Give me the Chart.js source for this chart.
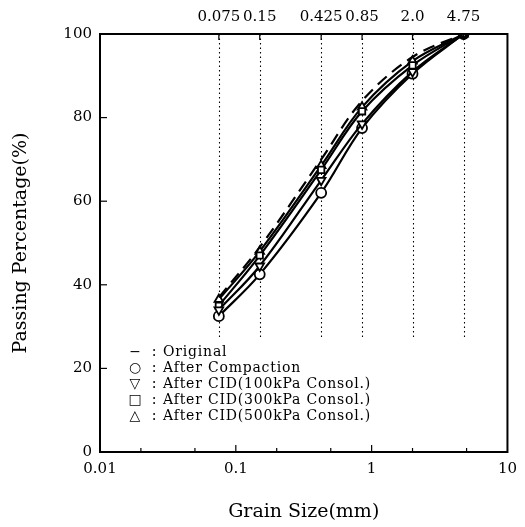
<!DOCTYPE html>
<html>
<head>
<meta charset="utf-8">
<script src="https://cdn.jsdelivr.net/npm/chart.js@4.4.1/dist/chart.umd.min.js"></script>
<style>
  html, body { margin: 0; padding: 0; background: #fff; }
  #wrap { width: 525px; height: 527px; }
</style>
</head>
<body>
<div id="wrap"><canvas id="chartGrain"></canvas></div>
<script>
// data -------------------------------------------------------------
const sieveSizes = [0.075, 0.15, 0.425, 0.85, 2.0, 4.75];
const sieveLabels = ['0.075', '0.15', '0.425', '0.85', '2.0', '4.75'];
const original = [37, 49, 70, 84, 94.5, 100];
const compaction = [32.5, 42.5, 62, 77.5, 90.5, 100];
const cid100 = [34, 44.5, 65, 78.5, 91, 100];
const cid300 = [35, 47, 67.5, 81.5, 92.5, 100];
const cid500 = [36.5, 48, 68.5, 82.5, 93.5, 100];
const seriesNames = ['Original', 'After Compaction', 'After CID(100kPa Consol.)', 'After CID(300kPa Consol.)', 'After CID(500kPa Consol.)'];
const legendSymbols = ['\u2212', '\u25CB', '\u25BD', '\u25A1', '\u25B3'];
const bottomTicks = [0.01, 0.1, 1, 10];
const yTicks = [0, 20, 40, 60, 80, 100];

const FONT = "'DejaVu Serif', 'Liberation Serif', serif";

function toPoints(values) {
    return sieveSizes.map((s, i) => ({ x: s, y: values[i] }));
}

// sieve dotted lines, box, inside ticks, legend ---------------------
const decorPlugin = {
    id: 'decor',
    beforeDatasetsDraw(chart) {
        const ctx = chart.ctx;
        const xs = chart.scales.x;
        const ys = chart.scales.y;
        const a = chart.chartArea;
        ctx.save();
        ctx.strokeStyle = '#000';
        ctx.lineWidth = 1.1;
        ctx.setLineDash([1.5, 3]);
        sieveSizes.forEach(s => {
            const px = Math.round(xs.getPixelForValue(s)) + 0.5;
            ctx.beginPath();
            ctx.moveTo(px, a.top);
            ctx.lineTo(px, ys.getPixelForValue(27));
            ctx.stroke();
        });
        ctx.restore();
    },
    afterDraw(chart) {
        const ctx = chart.ctx;
        const xs = chart.scales.x;
        const ys = chart.scales.y;
        const a = chart.chartArea;
        ctx.save();
        ctx.strokeStyle = '#000';
        ctx.lineWidth = 2;
        ctx.strokeRect(a.left, a.top, a.right - a.left, a.bottom - a.top);
        ctx.lineWidth = 1.2;
        // y ticks inside
        yTicks.forEach(v => {
            const py = ys.getPixelForValue(v);
            ctx.beginPath();
            ctx.moveTo(a.left, py);
            ctx.lineTo(a.left + 7, py);
            ctx.stroke();
        });
        // x ticks inside (bottom)
        [0.02, 0.05, 0.1, 0.2, 0.5, 1, 2, 5].forEach(v => {
            const px = xs.getPixelForValue(v);
            const len = bottomTicks.includes(v) ? 7 : 4;
            ctx.beginPath();
            ctx.moveTo(px, a.bottom);
            ctx.lineTo(px, a.bottom - len);
            ctx.stroke();
        });
        // sieve ticks at top
        sieveSizes.forEach(s => {
            const px = xs.getPixelForValue(s);
            ctx.beginPath();
            ctx.moveTo(px, a.top);
            ctx.lineTo(px, a.top + 6);
            ctx.stroke();
        });
        // legend
        ctx.fillStyle = '#000';
        ctx.textBaseline = 'middle';
        ctx.font = '14px ' + FONT;
        seriesNames.forEach((name, i) => {
            const y = a.bottom - 100 + i * 16;
            ctx.letterSpacing = '0px';
            ctx.textAlign = 'center';
            ctx.fillText(legendSymbols[i], a.left + 35, y);
            ctx.fillText(':', a.left + 54, y);
            ctx.textAlign = 'left';
            ctx.letterSpacing = '0.8px';
            ctx.fillText(name, a.left + 63, y);
        });
        ctx.restore();
    }
};

function chartGrain() {
    const common = {
        borderColor: '#000',
        pointBorderColor: '#000',
        pointBackgroundColor: '#fff',
        pointBorderWidth: 1.8,
        pointRadius: 5,
        borderWidth: 2.2,
        tension: 0.35,
        fill: false
    };
    const dataGrain = {
        datasets: [
            Object.assign({}, common, { label: seriesNames[0], data: toPoints(original), borderDash: [12, 7], pointRadius: 0 }),
            Object.assign({}, common, { label: seriesNames[2], data: toPoints(cid100), pointStyle: 'triangle', rotation: 180 }),
            Object.assign({}, common, { label: seriesNames[3], data: toPoints(cid300), pointStyle: 'rect', pointRadius: 4.5 }),
            Object.assign({}, common, { label: seriesNames[4], data: toPoints(cid500), pointStyle: 'triangle' }),
            Object.assign({}, common, { label: seriesNames[1], data: toPoints(compaction), pointStyle: 'circle',
                pointBackgroundColor: ['#fff', '#fff', '#fff', '#fff', '#fff', '#000'] })
        ]
    };

    const configGrain = {
        type: 'line',
        data: dataGrain,
        options: {
            responsive: true,
            maintainAspectRatio: false,
            animation: false,
            layout: { padding: { left: 0, right: 17, top: 0, bottom: 0 } },
            plugins: { legend: { display: false }, tooltip: { enabled: false } },
            scales: {
                x: {
                    type: 'logarithmic',
                    position: 'bottom',
                    min: 0.01,
                    max: 10,
                    afterBuildTicks: s => { s.ticks = bottomTicks.map(v => ({ value: v })); },
                    afterFit: s => { s.height = 75; },
                    grid: { display: false, drawTicks: false },
                    border: { display: false },
                    ticks: {
                        color: '#000',
                        padding: 8,
                        maxRotation: 0,
                        autoSkip: false,
                        font: { family: FONT, size: 15 },
                        callback: v => String(v)
                    },
                    title: {
                        display: true,
                        text: 'Grain Size(mm)',
                        color: '#000',
                        font: { family: FONT, size: 19 },
                        padding: { top: 13 }
                    }
                },
                x2: {
                    type: 'logarithmic',
                    position: 'top',
                    min: 0.01,
                    max: 10,
                    afterBuildTicks: s => { s.ticks = sieveSizes.map(v => ({ value: v })); },
                    afterFit: s => { s.height = 34; },
                    grid: { display: false, drawTicks: false },
                    border: { display: false },
                    ticks: {
                        color: '#000',
                        padding: 8,
                        maxRotation: 0,
                        autoSkip: false,
                        font: { family: FONT, size: 15 },
                        callback: (v, i) => sieveLabels[i]
                    }
                },
                y: {
                    min: 0,
                    max: 100,
                    afterBuildTicks: s => { s.ticks = yTicks.map(v => ({ value: v })); },
                    afterFit: s => { s.width = 100; },
                    grid: { display: false, drawTicks: false },
                    border: { display: false },
                    ticks: {
                        color: '#000',
                        padding: 8,
                        font: { family: FONT, size: 15 }
                    },
                    title: {
                        display: true,
                        text: 'Passing Percentage(%)',
                        color: '#000',
                        font: { family: FONT, size: 19 },
                        padding: { bottom: 0, top: 10 }
                    }
                }
            }
        },
        plugins: [decorPlugin]
    };

    const myChartGrain = new Chart(
        document.getElementById('chartGrain'),
        configGrain
    );
}

chartGrain();
</script>
</body>
</html>
